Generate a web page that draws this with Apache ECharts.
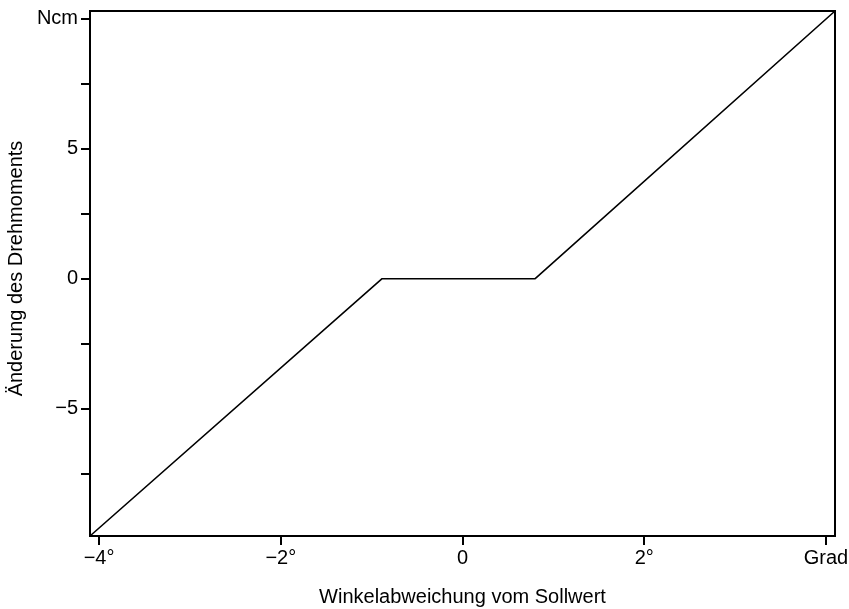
<!DOCTYPE html>
<html>
<head>
<meta charset="utf-8">
<script src="https://cdn.jsdelivr.net/npm/echarts@6/dist/echarts.min.js"></script>
<style>html,body{margin:0;padding:0;background:#fff}#c{width:849px;height:609px}</style>
</head>
<body>
<div id="c"></div>
<script>
// Data
const xKnots = [-4.1, -0.885, 0.8, 4.1];
const yKnots = [-9.9, 0, 0, 10.3];
const xTickValues = [-4, -2, 0, 2, 4];
const xTickLabels = ['\u22124\u00b0', '\u22122\u00b0', '0', '2\u00b0', 'Grad'];
const yTickValues = [-7.5, -5, -2.5, 0, 2.5, 5, 7.5, 10];
const yLabelValues = [-5, 0, 5, 10];
const yTickLabels = ['\u22125', '0', '5', 'Ncm'];

const font = 'Liberation Sans, Arial, Helvetica, sans-serif';
const fs = 20;
const chart = echarts.init(document.getElementById('c'));
chart.setOption({
  animation: false,
  grid: { left: 90, right: 14, top: 11, bottom: 73, containLabel: false, outerBoundsMode: 'none',
    show: true, borderColor: '#000', borderWidth: 2, backgroundColor: 'transparent' },
  xAxis: {
    type: 'value', min: -4.1, max: 4.1,
    name: 'Winkelabweichung vom Sollwert', nameLocation: 'middle', nameGap: 51,
    nameTextStyle: { color: '#000', fontSize: fs, fontFamily: font },
    axisLine: { show: true, onZero: false, lineStyle: { color: '#000', width: 2 } },
    axisTick: { show: true, length: 9, customValues: xTickValues, lineStyle: { color: '#000', width: 2 } },
    axisLabel: { show: true, customValues: xTickValues, margin: 12, color: '#000', fontSize: fs, fontFamily: font,
      formatter: v => xTickLabels[xTickValues.indexOf(v)] },
    splitLine: { show: false }
  },
  yAxis: {
    type: 'value', min: -9.9, max: 10.3,
    name: '\u00c4nderung des Drehmoments', nameLocation: 'middle', nameGap: 57, nameRotate: 90,
    nameTextStyle: { color: '#000', fontSize: fs, fontFamily: font, padding: [0, 0, 0, 10] },
    axisLine: { show: true, onZero: false, lineStyle: { color: '#000', width: 2 } },
    axisTick: { show: true, length: 9, customValues: yTickValues, lineStyle: { color: '#000', width: 2 } },
    axisLabel: { show: true, customValues: yLabelValues, margin: 12, color: '#000', fontSize: fs, fontFamily: font,
      formatter: v => yTickLabels[yLabelValues.indexOf(v)] },
    splitLine: { show: false }
  },
  series: [{
    type: 'line',
    data: xKnots.map((x, i) => [x, yKnots[i]]),
    showSymbol: false, symbol: 'none',
    lineStyle: { color: '#000', width: 1.6 },
    clip: true
  }]
});
</script>
</body>
</html>
